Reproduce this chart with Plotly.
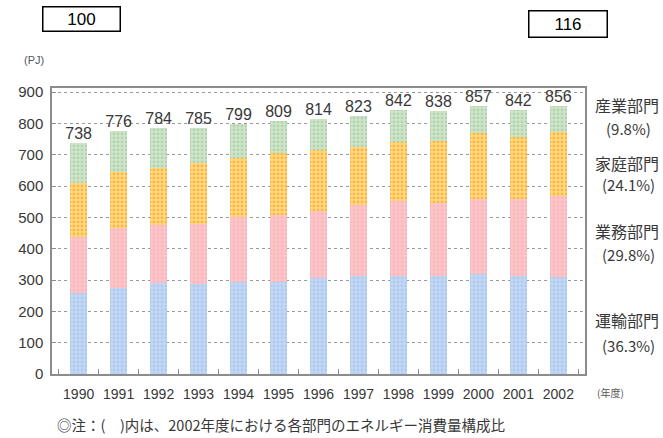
import plotly.graph_objects as go

# Fiscal years and energy consumption by sector (PJ)
years = ["1990", "1991", "1992", "1993", "1994", "1995", "1996",
         "1997", "1998", "1999", "2000", "2001", "2002"]
transport = [258, 274, 290, 287, 294, 294, 305, 312, 312, 312, 318, 312, 311]
business = [178, 191, 185, 193, 206, 215, 214, 226, 239, 233, 242, 248, 256]
residential = [175, 181, 184, 192, 188, 195, 197, 188, 191, 200, 208, 198, 206]
industry = [127, 130, 125, 113, 111, 105, 98, 97, 100, 93, 89, 84, 83]

totals = [a + b + c + d for a, b, c, d in zip(transport, business, residential, industry)]

# Sector labels with 2002 composition shares
sector_names = ["産業部門", "家庭部門", "業務部門", "運輸部門"]
sector_shares = ["(9.8%)", "(24.1%)", "(29.8%)", "(36.3%)"]

# Index boxes (1990 = 100)
index_labels = ["100", "116"]

W, H = 663, 438
L, R, T, B = 52, 78, 88, 64
PW, PH = W - L - R, H - T - B


def px_x(x):
    return (x - L) / PW


def px_y(y):
    return (H - B - y) / PH


TXT = "#383838"
fig = go.Figure()

series = [
    ("運輸部門", transport, "#c8d5f4", "#a8cdef"),
    ("業務部門", business, "#ffc5c5", "#f6b9c4"),
    ("家庭部門", residential, "#ffdc86", "#ffb443"),
    ("産業部門", industry, "#cfe8bf", "#b5d0c0"),
]
for name, vals, bg, fg in series:
    fig.add_trace(go.Bar(
        x=years, y=vals, name=name,
        marker=dict(color=bg, line=dict(width=0),
                    pattern=dict(shape=".", fgcolor=fg, bgcolor=bg,
                                 size=4, solidity=0.4, fillmode="replace")),
        hoverinfo="x+y+name",
    ))

# Totals above each bar
fig.add_trace(go.Scatter(
    x=years, y=totals, mode="text", text=[str(t) for t in totals],
    textposition="top center",
    textfont=dict(family="Liberation Sans Narrow, Liberation Sans, Arial", size=16, color=TXT),
    showlegend=False, hoverinfo="skip",
))

annotations = []
# Sector names and shares on the right
name_y = [105, 163, 231, 320]
share_y = [128, 184, 254, 345]
for nm, sh, ny, sy in zip(sector_names, sector_shares, name_y, share_y):
    annotations.append(dict(x=px_x(627), y=px_y(ny), xref="paper", yref="paper",
                            text=nm, showarrow=False, xanchor="center", yanchor="middle",
                            font=dict(family="Noto Sans CJK JP", size=16, color=TXT)))
    annotations.append(dict(x=px_x(628), y=px_y(sy), xref="paper", yref="paper",
                            text=sh, showarrow=False, xanchor="center", yanchor="middle",
                            font=dict(family="Noto Sans CJK JP", size=15, color=TXT)))

# Index boxes
for lab, cx, cy, bw, bh in zip(index_labels, [81, 567.5], [19.5, 24.5], [76, 77], [23, 25]):
    annotations.append(dict(x=px_x(cx), y=px_y(cy), xref="paper", yref="paper",
                            text=lab, showarrow=False, xanchor="center", yanchor="middle",
                            width=bw, height=bh, borderpad=0,
                            bordercolor="#000000", borderwidth=1.5, bgcolor="#ffffff",
                            font=dict(family="Liberation Sans, Arial", size=17, color="#000000")))

# Unit labels
annotations.append(dict(x=px_x(34), y=px_y(60), xref="paper", yref="paper", text="(PJ)",
                        showarrow=False, xanchor="center", yanchor="middle",
                        font=dict(family="Liberation Sans, Arial", size=11, color="#555555")))
annotations.append(dict(x=px_x(610), y=px_y(392), xref="paper", yref="paper", text="(年度)",
                        showarrow=False, xanchor="center", yanchor="middle",
                        font=dict(family="Noto Sans CJK JP", size=10, color="#555555")))
# Footnote
annotations.append(dict(x=px_x(55), y=px_y(424), xref="paper", yref="paper",
                        text="◎注：(　)内は、2002年度における各部門のエネルギー消費量構成比",
                        showarrow=False, xanchor="left", yanchor="middle",
                        font=dict(family="Noto Sans CJK JP", size=14.5, color=TXT)))

fig.update_layout(
    width=W, height=H,
    margin=dict(l=L, r=R, t=T, b=B, pad=0),
    paper_bgcolor="#ffffff", plot_bgcolor="#ffffff",
    barmode="stack", bargap=0.56,
    showlegend=False,
    annotations=annotations,
    font=dict(family="Liberation Sans, Arial", color=TXT),
)
fig.update_xaxes(
    type="category", showgrid=False, showline=True, linecolor="#8c8c8c", linewidth=1.5,
    mirror=True, ticks="inside", ticklen=5, tickcolor="#8c8c8c", tickson="boundaries",
    tickangle=0,
    tickfont=dict(family="Liberation Sans, Arial", size=14, color=TXT),
    ticklabelstandoff=6,
)
fig.update_yaxes(
    range=[0, 913], tickmode="array", tickvals=list(range(0, 1000, 100)),
    showgrid=True, gridcolor="#9a9a9a", griddash="3px,3px", gridwidth=1,
    showline=True, linecolor="#8c8c8c", linewidth=1.5, mirror=True,
    ticks="inside", ticklen=4, tickcolor="#8c8c8c", zeroline=False,
    tickfont=dict(family="Liberation Sans, Arial", size=15, color=TXT),
    ticklabelstandoff=4,
)

fig.write_html("out.html")
